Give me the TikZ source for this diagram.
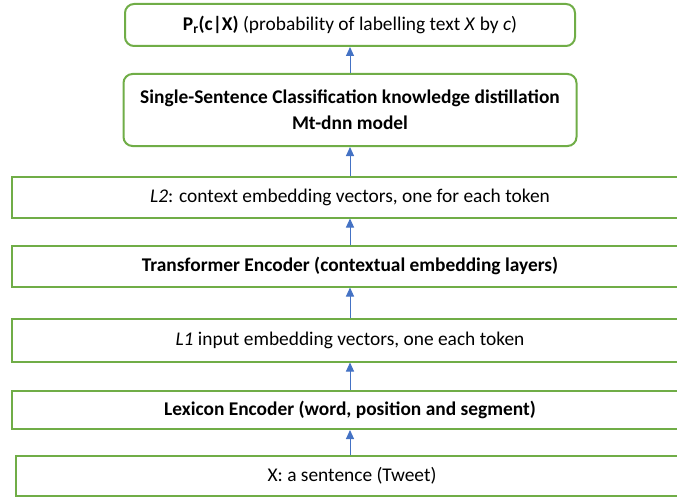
\documentclass[tikz,border=0pt]{standalone}
\usepackage{fontspec}
\setmainfont{Carlito}
\usetikzlibrary{arrows.meta}
\definecolor{boxgreen}{HTML}{70AD47}
\definecolor{arrblue}{HTML}{4472C4}
\begin{document}
\begin{tikzpicture}[x=1pt,y=-1pt,
  box/.style={draw=boxgreen, line width=2pt, fill=white, inner sep=0pt, align=center, font=\fontsize{19.4}{26}\selectfont},
  rbox/.style={box, rounded corners=9pt},
  arr/.style={draw=arrblue, line width=1pt, -{Triangle[length=9pt,width=8pt]}}]
\clip (0,0) rectangle (677,500);
\node[rbox, minimum width=450pt, minimum height=42pt] (pr) at (350,25)
  {\textbf{P\textsubscript{r}(c|X)} (probability of labelling text \textit{X} by \textit{c})};
\node[rbox, minimum width=453pt, minimum height=72pt] (ssc) at (350,110)
  {\textbf{Single-Sentence Classification knowledge distillation}\\\textbf{Mt-dnn model}};
\node[box, minimum width=676pt, minimum height=41pt] (ltwo) at (350,197)
  {\textit{L2}: context embedding vectors, one for each token};
\node[box, minimum width=676pt, minimum height=41pt] (tr) at (350,266)
  {\textbf{Transformer Encoder (contextual embedding layers)}};
\node[box, minimum width=676pt, minimum height=43pt] (lone) at (350,340)
  {\textit{L1} input embedding vectors, one each token};
\node[box, minimum width=676pt, minimum height=38pt] (lex) at (350,410)
  {\textbf{Lexicon Encoder (word, position and segment)}};
\node[box, minimum width=672pt, minimum height=40pt] (xs) at (352,476)
  {X: a sentence (Tweet)};
\draw[arr] (xs.north -| lex.south) -- (lex.south);
\draw[arr] (lex.north) -- (lone.south);
\draw[arr] (lone.north) -- (tr.south);
\draw[arr] (tr.north) -- (ltwo.south);
\draw[arr] (ltwo.north) -- (ssc.south);
\draw[arr] (ssc.north) -- (pr.south);
\end{tikzpicture}
\end{document}
